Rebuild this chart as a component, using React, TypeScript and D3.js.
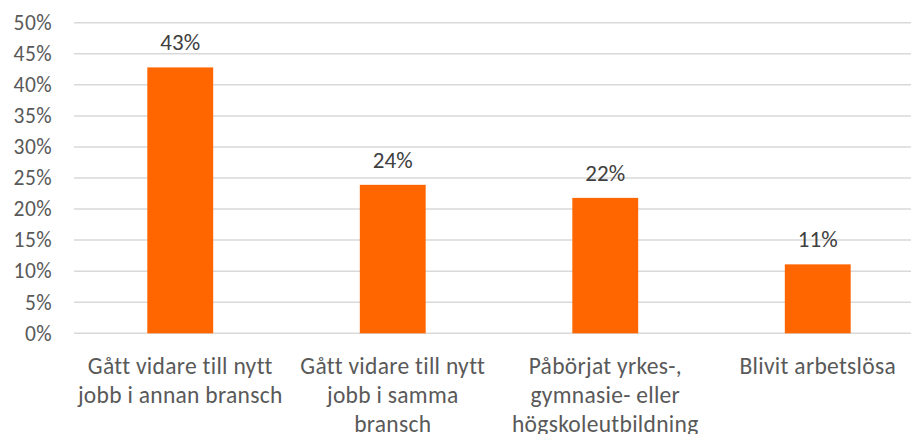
import React from "react";
import * as d3 from "d3";

const categories: string[][] = [
  ["Gått vidare till nytt", "jobb i annan bransch"],
  ["Gått vidare till nytt", "jobb i samma", "bransch"],
  ["Påbörjat yrkes-,", "gymnasie- eller", "högskoleutbildning"],
  ["Blivit arbetslösa"],
];
const values: number[] = [42.8, 23.9, 21.8, 11.1];
const valueLabels: string[] = ["43%", "24%", "22%", "11%"];
const yTicks: number[] = [0, 5, 10, 15, 20, 25, 30, 35, 40, 45, 50];

const W = 911;
const H = 434;
const FONT = "Carlito, 'Liberation Sans', Arial, sans-serif";

export default function App() {
  const x = d3
    .scaleBand<number>()
    .domain(values.map((_, i) => i))
    .range([74, 924])
    .paddingInner(0.69)
    .paddingOuter(0.345);
  const y = d3.scaleLinear().domain([0, 50]).range([333.3, 22.7]);

  return (
    <svg
      width={W}
      height={H}
      style={{ position: "absolute", left: 0, top: 0, background: "#fff" }}
    >
      {yTicks.map((t) => (
        <g key={t}>
          <line
            x1={74}
            x2={W}
            y1={y(t)}
            y2={y(t)}
            stroke="#d9d9d9"
            strokeWidth={1.5}
          />
          <text
            x={52}
            y={y(t)}
            dy="0.34em"
            textAnchor="end"
            fontFamily={FONT}
            fontSize={21.5}
            letterSpacing={0.4}
            fill="#595959"
          >
            {t}%
          </text>
        </g>
      ))}
      {values.map((v, i) => {
        const bx = x(i)!;
        const bw = x.bandwidth();
        return (
          <g key={i}>
            <rect x={bx} y={y(v)} width={bw} height={y(0) - y(v)} fill="#FF6600" />
            <text
              x={bx + bw / 2}
              y={y(v) - 17}
              textAnchor="middle"
              fontFamily={FONT}
              fontSize={23}
              fill="#404040"
            >
              {valueLabels[i]}
            </text>
            {categories[i].map((line, j) => (
              <text
                key={j}
                x={bx + bw / 2}
                y={374 + j * 29}
                textAnchor="middle"
                fontFamily={FONT}
                fontSize={23.5}
                letterSpacing={0.3}
                fill="#595959"
              >
                {line}
              </text>
            ))}
          </g>
        );
      })}
    </svg>
  );
}
